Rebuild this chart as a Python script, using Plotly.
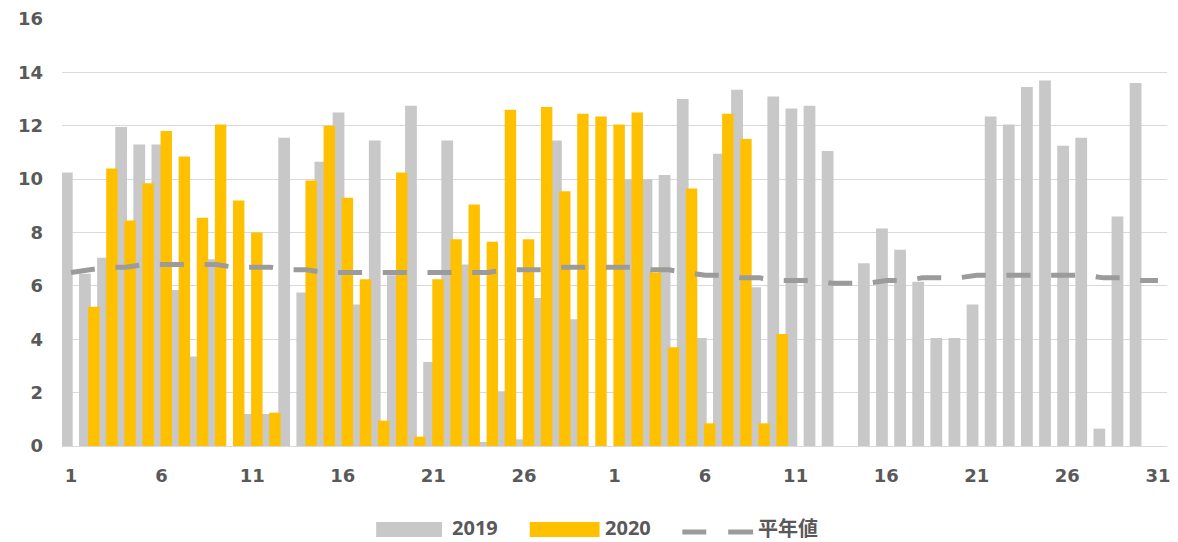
import plotly.graph_objects as go

# ---- data (61 days: 30 + 31) ----
days = list(range(1, 62))
tick_vals = [1, 6, 11, 16, 21, 26, 31, 36, 41, 46, 51, 56, 61]
tick_text = ["1", "6", "11", "16", "21", "26", "1", "6", "11", "16", "21", "26", "31"]

y2019 = [10.25, 6.45, 7.05, 11.95, 11.3, 11.3, 5.85, 3.35, 7.0, 0,
         1.2, 1.2, 11.55, 5.75, 10.65, 12.5, 5.3, 11.45, 6.4, 12.75,
         3.15, 11.45, 6.8, 0.15, 2.05, 0.25, 5.55, 11.45, 4.75, 0,
         0, 10.0, 10.0, 10.15, 13.0, 4.05, 10.95, 13.35, 5.95, 13.1,
         12.65, 12.75, 11.05, 0, 6.85, 8.15, 7.35, 6.15, 4.05, 4.05,
         5.3, 12.35, 12.05, 13.45, 13.7, 11.25, 11.55, 0.65, 8.6, 13.6,
         0]

y2020 = [0, 5.22, 10.4, 8.45, 9.85, 11.8, 10.85, 8.55, 12.05, 9.2,
         8.0, 1.25, 0, 9.95, 12.0, 9.3, 6.25, 0.95, 10.25, 0.35,
         6.25, 7.75, 9.05, 7.65, 12.6, 7.75, 12.7, 9.55, 12.45, 12.35,
         12.05, 12.5, 6.5, 3.7, 9.65, 0.85, 12.45, 11.5, 0.85, 4.2] + [None] * 21

normal = [6.5, 6.6, 6.7, 6.7, 6.8, 6.8, 6.8, 6.8, 6.8, 6.7,
          6.7, 6.7, 6.6, 6.6, 6.5, 6.5, 6.5, 6.5, 6.5, 6.5,
          6.5, 6.5, 6.5, 6.5, 6.6, 6.6, 6.6, 6.7, 6.7, 6.7,
          6.7, 6.7, 6.6, 6.6, 6.5, 6.4, 6.4, 6.3, 6.3, 6.2,
          6.2, 6.2, 6.1, 6.1, 6.1, 6.2, 6.2, 6.3, 6.3, 6.3,
          6.4, 6.4, 6.4, 6.4, 6.4, 6.4, 6.4, 6.3, 6.3, 6.2,
          6.2]

series_names = ["2019", "2020", "平年値"]

GRAY = "#c8c8c8"
GOLD = "#ffc000"
LINE = "#9b9b9b"
TXT = "#595959"

W, H = 1178, 542
L, R, T, B = 62, 8, 19, 96
PW, PH = W - L - R, H - T - B


def px(x):
    return (x - L) / PW


def py(y):
    return (H - B - y) / PH


fig = go.Figure()
fig.add_trace(go.Bar(x=days, y=y2019, name=series_names[0], offset=-0.56, width=0.65,
                     marker=dict(color=GRAY, line=dict(width=0)), showlegend=False))
fig.add_trace(go.Bar(x=days, y=y2020, name=series_names[1], offset=-0.06, width=0.63,
                     marker=dict(color=GOLD, line=dict(width=0)), showlegend=False))
fig.add_trace(go.Scatter(x=days, y=normal, name=series_names[2], mode="lines",
                         line=dict(color=LINE, width=5, dash="24px,20.7px"),
                         showlegend=False))

# ---- custom legend ----
shapes = [
    dict(type="rect", xref="paper", yref="paper", x0=px(377), x1=px(443), y0=py(537), y1=py(522),
         fillcolor=GRAY, line=dict(width=0)),
    dict(type="rect", xref="paper", yref="paper", x0=px(531), x1=px(601), y0=py(537), y1=py(522),
         fillcolor=GOLD, line=dict(width=0)),
    dict(type="line", xref="paper", yref="paper", x0=px(684), x1=px(708), y0=py(532), y1=py(532),
         line=dict(color=LINE, width=5)),
    dict(type="line", xref="paper", yref="paper", x0=px(730), x1=px(755), y0=py(532), y1=py(532),
         line=dict(color=LINE, width=5)),
]
leg_font = dict(family="Noto Sans, Noto Sans CJK JP", size=20, color=TXT, weight="bold")
annotations = [
    dict(text="<b>2019</b>", x=px(452), y=py(527.5), xref="paper", yref="paper",
         xanchor="left", yanchor="middle", showarrow=False, font=leg_font, borderpad=0),
    dict(text="<b>2020</b>", x=px(605), y=py(527.5), xref="paper", yref="paper",
         xanchor="left", yanchor="middle", showarrow=False, font=leg_font, borderpad=0),
    dict(text="<b>平年値</b>", x=px(759), y=py(527.5), xref="paper", yref="paper",
         xanchor="left", yanchor="middle", showarrow=False, borderpad=0,
         font=dict(family="Noto Sans CJK JP", size=20, color=TXT)),
]

axis_font = dict(family="DejaVu Sans", size=18, color=TXT, weight="bold")

fig.update_layout(
    width=W, height=H,
    margin=dict(l=L, r=R, t=T, b=B),
    paper_bgcolor="white", plot_bgcolor="white",
    barmode="overlay",
    shapes=shapes, annotations=annotations,
    xaxis=dict(range=[0.5, 61.5], tickmode="array", tickvals=tick_vals, ticktext=tick_text,
               showgrid=False, zeroline=False, showline=True, linecolor="#d9d9d9", linewidth=1,
               ticks="", tickfont=axis_font, ticklabelstandoff=13, fixedrange=True),
    yaxis=dict(range=[0, 16], tickmode="array", tickvals=list(range(0, 17, 2)),
               showgrid=True, gridcolor="#d9d9d9", gridwidth=1.3, zeroline=False,
               showline=False, ticks="", tickfont=axis_font, ticklabelstandoff=18,
               fixedrange=True),
)

fig.write_html(
    "out.html",
    config={"displayModeBar": False},
    post_script="document.body.style.margin='0';document.body.style.overflow='hidden';",
)
